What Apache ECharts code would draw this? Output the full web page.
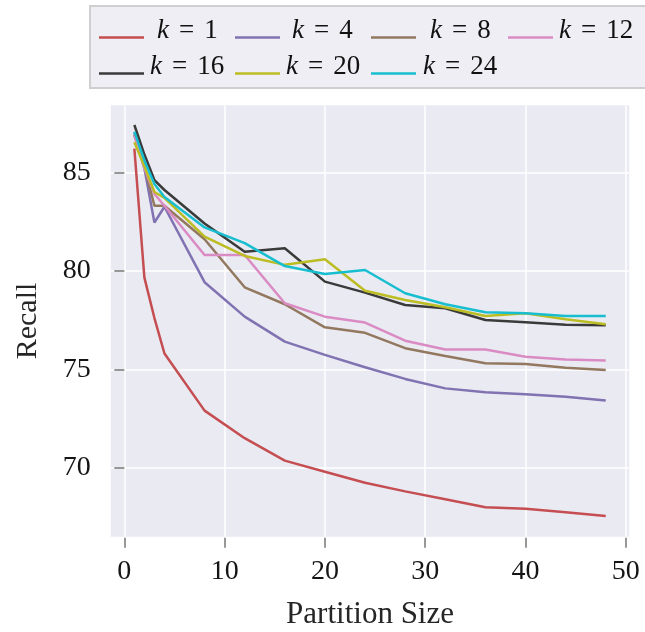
<!DOCTYPE html>
<html>
<head>
<meta charset="utf-8">
<script src="https://cdn.jsdelivr.net/npm/echarts@6/dist/echarts.min.js"></script>
<style>
  html, body { margin: 0; padding: 0; background: #ffffff; }
  #chart { width: 645px; height: 632px; }
</style>
</head>
<body>
<div id="chart"></div>
<script>
// ---- Data ----
const partitionSizes = [1, 2, 3, 4, 8, 12, 16, 20, 24, 28, 32, 36, 40, 44, 48];
const seriesNames = ['k=1', 'k=4', 'k=8', 'k=12', 'k=16', 'k=20', 'k=24'];
const recallK1  = [86.2, 79.65, 77.6, 75.8, 72.9, 71.5, 70.36, 69.8, 69.24, 68.8, 68.4, 68.0, 67.92, 67.74, 67.55];
const recallK4  = [87.0, 85.2, 82.45, 83.25, 79.42, 77.67, 76.4, 75.73, 75.1, 74.51, 74.03, 73.83, 73.73, 73.61, 73.41];
const recallK8  = [86.9, 85.3, 83.3, 83.3, 81.6, 79.16, 78.3, 77.13, 76.85, 76.07, 75.67, 75.3, 75.27, 75.08, 74.96];
const recallK12 = [86.86, 85.2, 83.9, 83.3, 80.8, 80.8, 78.35, 77.67, 77.37, 76.45, 76.0, 76.0, 75.64, 75.5, 75.44];
const recallK16 = [87.4, 85.9, 84.6, 84.1, 82.4, 80.97, 81.14, 79.45, 78.89, 78.26, 78.1, 77.5, 77.39, 77.26, 77.23];
const recallK20 = [86.52, 85.3, 84.0, 83.7, 81.73, 80.75, 80.3, 80.58, 78.99, 78.52, 78.15, 77.7, 77.84, 77.54, 77.28];
const recallK24 = [87.06, 85.6, 84.4, 83.75, 82.2, 81.4, 80.24, 79.84, 80.04, 78.86, 78.3, 77.89, 77.84, 77.7, 77.7];
const xTicks = [0, 10, 20, 30, 40, 50];
const yTicks = [70, 75, 80, 85];
const xTitle = 'Partition Size';
const yTitle = 'Recall';

// ---- Styling ----
const allValues = [recallK1, recallK4, recallK8, recallK12, recallK16, recallK20, recallK24];
const colors = ['#c44e52', '#8172b2', '#937860', '#da8bc3', '#3a3a3a', '#bcbd22', '#17becf'];
const FONT = '"Liberation Serif", "DejaVu Serif", serif';

const chart = echarts.init(document.getElementById('chart'), null, { renderer: 'canvas' });

const series = seriesNames.map((name, i) => ({
  name: name,
  type: 'line',
  data: partitionSizes.map((x, j) => [x, allValues[i][j]]),
  showSymbol: false,
  symbol: 'none',
  lineStyle: { width: 2.5, color: colors[i] },
  itemStyle: { color: colors[i] },
  emphasis: { disabled: true },
  z: 2 + i
}));

// legend layout: [left of line icon, icon center y, text padding-left]
const legendPos = [
  [99, 38.5, 8], [235, 38.5, 7], [371, 38.5, 9], [508, 38.5, 1],
  [99, 74.5, 1], [235, 74.5, 1], [371, 74.5, 2]
];
const LEG_FS = 27, LEG_TXT_H = 29, LEG_PAD_B = 14;
const legends = seriesNames.map((name, i) => ({
  data: [name],
  left: legendPos[i][0],
  top: legendPos[i][1] - (LEG_TXT_H + LEG_PAD_B) / 2,
  padding: 0,
  icon: 'rect',
  itemWidth: 45,
  itemHeight: 2.5,
  selectedMode: false,
  formatter: function (n) { return '{i|k}{e|=}' + n.split('=')[1]; },
  textStyle: {
    fontFamily: FONT,
    fontSize: LEG_FS,
    color: '#111111',
    padding: [0, 0, LEG_PAD_B, legendPos[i][2]],
    rich: {
      i: { fontFamily: FONT, fontSize: LEG_FS, fontStyle: 'italic', color: '#111111' },
      e: { fontFamily: FONT, fontSize: LEG_FS, color: '#111111', padding: [0, 10, 0, 10] }
    }
  }
}));

const option = {
  animation: false,
  backgroundColor: '#ffffff',
  graphic: [{
    type: 'rect',
    z: 0,
    shape: { x: 90, y: 6, width: 700, height: 82 },
    style: { fill: '#eeeef4', stroke: '#cfcfcf', lineWidth: 2 }
  }],
  legend: legends,
  grid: {
    left: 110.8, right: 15.7, top: 105.3, bottom: 95.3,
    containLabel: false,
    outerBoundsMode: 'none',
    show: true,
    backgroundColor: '#eaeaf2',
    borderWidth: 0
  },
  xAxis: {
    type: 'value',
    min: -1.35,
    max: 50.35,
    offset: 1,
    axisLine: { show: false },
    axisTick: { show: true, length: 10, lineStyle: { color: '#777777', width: 1.5 }, customValues: xTicks },
    axisLabel: { customValues: xTicks, margin: 20, fontFamily: FONT, fontSize: 28, color: '#151515' },
    splitLine: { show: true, lineStyle: { color: '#ffffff', width: 1.5 } },
    name: xTitle,
    nameLocation: 'middle',
    nameGap: 62,
    nameTextStyle: { fontFamily: FONT, fontSize: 31, color: '#262626' }
  },
  yAxis: {
    type: 'value',
    min: 66.5,
    max: 88.4,
    offset: 1,
    axisLine: { show: false },
    axisTick: { show: true, length: 10, lineStyle: { color: '#777777', width: 1.5 }, customValues: yTicks },
    axisLabel: { customValues: yTicks, margin: 19, fontFamily: FONT, fontSize: 28, color: '#151515' },
    splitLine: { show: true, lineStyle: { color: '#ffffff', width: 1.5 } },
    name: yTitle,
    nameLocation: 'middle',
    nameGap: 67,
    nameTextStyle: { fontFamily: FONT, fontSize: 30, color: '#262626' }
  },
  series: series
};

chart.setOption(option);
</script>
</body>
</html>
